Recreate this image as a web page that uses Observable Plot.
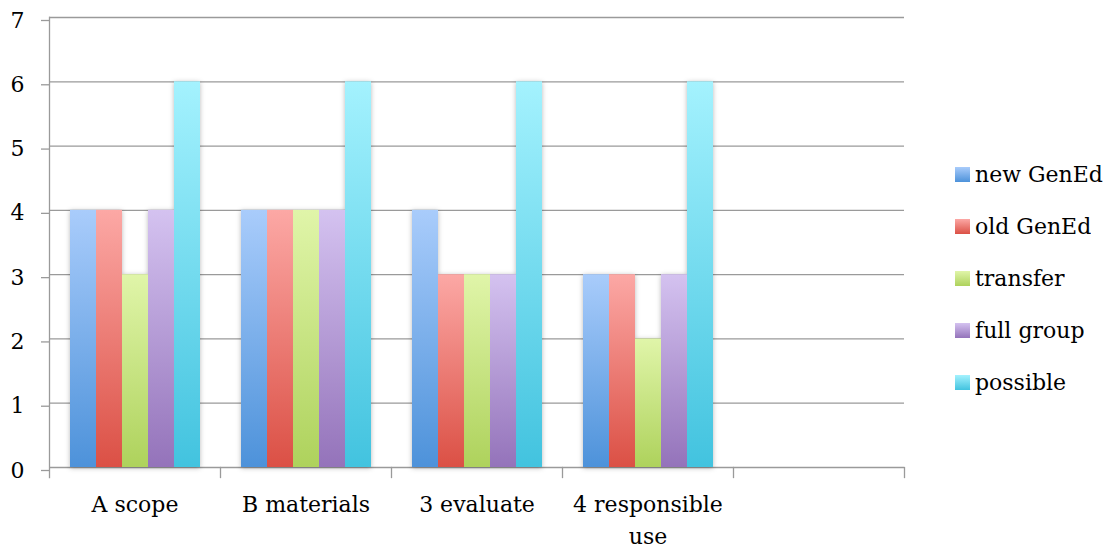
<!DOCTYPE html>
<html><head><meta charset="utf-8">
<script src="https://cdn.jsdelivr.net/npm/d3@7"></script>
<script src="https://cdn.jsdelivr.net/npm/@observablehq/plot@0.6"></script>
<style>
body{margin:0;background:#fff;}
#wrap{position:relative;width:1108px;height:548px;font-family:"DejaVu Serif",serif;}
#legend{position:absolute;left:955px;top:149px;}
</style></head><body><div id="wrap"><div id="chart"></div><div id="legend"></div></div>
<script>
// ---- data ----
const categories = ["A scope", "B materials", "3 evaluate", "4 responsible use"];
const emptySlot = " ";
const series = ["new GenEd", "old GenEd", "transfer", "full group", "possible"];
const newGenEd  = [4, 4, 4, 3];
const oldGenEd  = [4, 4, 3, 3];
const transfer  = [3, 4, 3, 2];
const fullGroup = [4, 4, 3, 3];
const possible  = [6, 6, 6, 6];
const yTicks = [0, 1, 2, 3, 4, 5, 6, 7];
const topColors    = ["#a9ccfb", "#fca8a5", "#e0f5a9", "#d4c2f0", "#a4f2fe"];
const bottomColors = ["#4d92da", "#db5045", "#aed25c", "#9473ba", "#42c3df"];

const values = [newGenEd, oldGenEd, transfer, fullGroup, possible];
const rows = categories.flatMap((c, i) => series.map((s, j) => ({category: c, series: s, value: values[j][i]})));
// the empty fifth slot of the category axis (no values)
rows.push(...series.map(s => ({category: emptySlot, series: s, value: null})));
const gradIds = series.map((s, i) => `grad${i}`);
const font = '"DejaVu Serif", serif';

const chart = Plot.plot({
  width: 1108, height: 548,
  marginTop: 17, marginBottom: 81, marginLeft: 48, marginRight: 203,
  style: {fontFamily: font, fontSize: "22px", color: "#000", background: "#fff"},
  fx: {domain: [...categories, emptySlot], padding: 0, label: null},
  x: {domain: series, paddingInner: 0, paddingOuter: 0.74, axis: null},
  y: {domain: [0, 7], label: null},
  color: {domain: series, range: gradIds.map(id => `url(#${id})`)},
  marks: [
    Plot.gridY(yTicks, {stroke: "#9a9a9a", strokeOpacity: 1, strokeWidth: 1.3}),
    Plot.frame({anchor: "left", facetAnchor: "left", stroke: "#9a9a9a", strokeWidth: 1.3, insetBottom: -10}),
    Plot.frame({anchor: "right", stroke: "#9a9a9a", strokeWidth: 1.3, insetTop: 450, insetBottom: -10}),
    Plot.axisY(yTicks, {tickSize: 8, tickPadding: 17, stroke: "#9a9a9a", strokeWidth: 1.3, fill: "#000", label: null, dy: 3, fontSize: 22,
      tickFormat: d => String(d)}),
    Plot.axisFx({anchor: "bottom", tickSize: 0, tickPadding: 22, label: null, fill: "#000", fontSize: 22, lineHeight: 1.45,
      tickFormat: d => d === "4 responsible use" ? "4 responsible\nuse" : d}),
    Plot.barY(rows, {fx: "category", x: "series", y: "value", fill: "series"})
  ]
});
document.getElementById("chart").appendChild(chart);

const svg = d3.select(chart);
const defs = svg.insert("defs", ":first-child");
series.forEach((s, i) => {
  const g = defs.append("linearGradient").attr("id", gradIds[i]).attr("x1", 0).attr("y1", 0).attr("x2", 0).attr("y2", 1);
  g.append("stop").attr("offset", "0%").attr("stop-color", topColors[i]);
  g.append("stop").attr("offset", "100%").attr("stop-color", bottomColors[i]);
});
svg.selectAll('g[aria-label="bar"]').style("filter", "drop-shadow(0px 1px 2.5px rgba(0,0,0,0.28))");

const legend = chart.legend("color", {legend: "swatches", columns: 1, swatchSize: 15,
  style: {fontFamily: font, fontSize: "22px", color: "#000"}});
document.getElementById("legend").appendChild(legend);
d3.select(legend).selectAll(":scope > div").style("height", "51.8px").style("margin", "0").style("padding", "0")
  .style("display", "flex").style("align-items", "center");
d3.select(legend).selectAll("svg").style("margin-right", "5px");
</script></body></html>
